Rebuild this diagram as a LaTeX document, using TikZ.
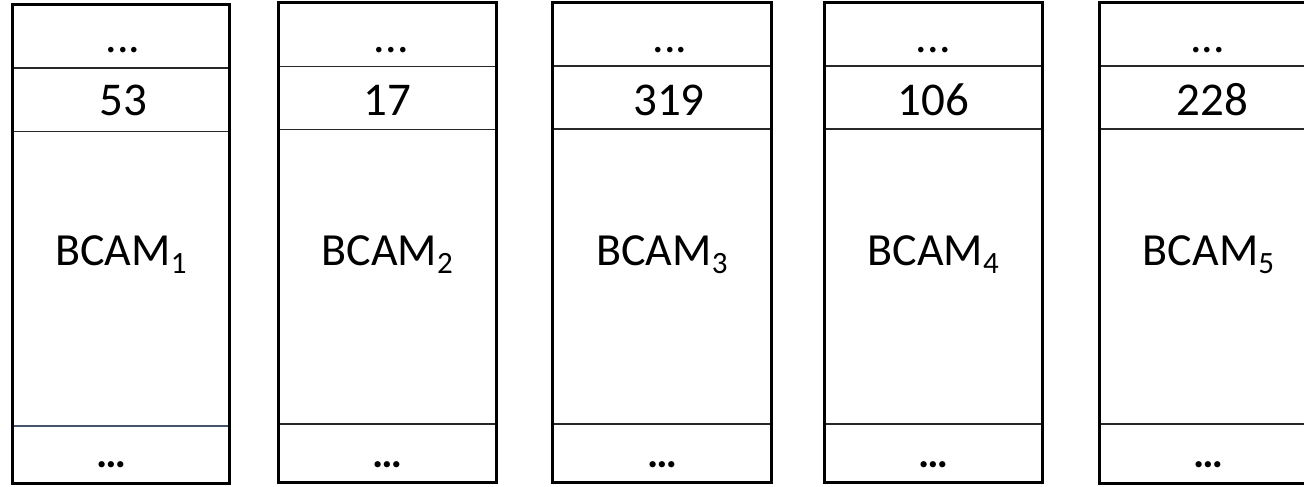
\documentclass[tikz,border=0pt]{standalone}
\usepackage{fontspec}
\setmainfont{Carlito}
\definecolor{divgray}{RGB}{40,40,40}
\definecolor{divblue}{RGB}{68,84,106}
\tikzset{
  outerbox/.style={draw=black,line width=3pt},
  divline/.style={draw=divgray,line width=1.5pt},
  numtext/.style={font=\fontsize{47}{52}\selectfont,anchor=base,inner sep=0pt},
  dotstext/.style={font=\fontsize{46}{50}\selectfont,anchor=base,inner sep=0pt},
  bdotstext/.style={font=\fontsize{42}{46}\selectfont\bfseries,anchor=base,inner sep=0pt},
  nametext/.style={font=\fontsize{46}{50}\selectfont,anchor=base,inner sep=0pt},
}
% #1 name, #2 L, #3 R, #4 T, #5 d1, #6 d2, #7 d3, #8 B, #9 number
\newcommand{\camcolumn}[9]{%
  \draw[divline] (#2,#5) -- (#3,#5);
  \draw[divline] (#2,#6) -- (#3,#6);
  \draw[divline,draw=\dthree] (#2,#7) -- (#3,#7);
  \draw[outerbox] (#2,#4) rectangle (#3,#8);
  \node[dotstext] (#1top) at ({(#2+#3)/2+\topdx},53) {...};
  \node[numtext] (#1num) at ({(#2+#3)/2+\numdx},115.5) {#9};
  \node[nametext] (#1name) at ({(#2+#3)/2},265) {BCAM\raisebox{-8pt}{\fontsize{31}{34}\selectfont\csname sub#1\endcsname}};
  \node[bdotstext] (#1bot) at ({(#2+#3)/2+\botdx},467) {\dots};
}
\def\subca{1}\def\subcb{2}\def\subcc{3}\def\subcd{4}\def\subce{5}
\begin{document}
\begin{tikzpicture}[x=1pt,y=-1pt]
\useasboundingbox (0,0) rectangle (1304,487);
\def\dthree{divblue}\def\topdx{2}\def\numdx{2}\def\botdx{-10}
\camcolumn{ca}{12.5}{229.5}{4.7}{68}{131.5}{426}{483}{53}
\def\dthree{divgray}\def\topdx{4}\def\numdx{0}\def\botdx{0}
\camcolumn{cb}{278.5}{496}{3}{66.3}{129.3}{424}{482}{17}
\def\topdx{8}\def\numdx{7}\def\botdx{0}
\camcolumn{cc}{552.5}{771.5}{3}{66}{129}{424}{482}{319}
\def\topdx{0}\def\numdx{0}\def\botdx{0}
\camcolumn{cd}{824}{1042.5}{3}{66}{129}{424}{482}{106}
\def\topdx{-1}\def\numdx{4}\def\botdx{0}
\camcolumn{ce}{1099}{1318}{3}{66}{129}{424}{483}{228}
\end{tikzpicture}
\end{document}
